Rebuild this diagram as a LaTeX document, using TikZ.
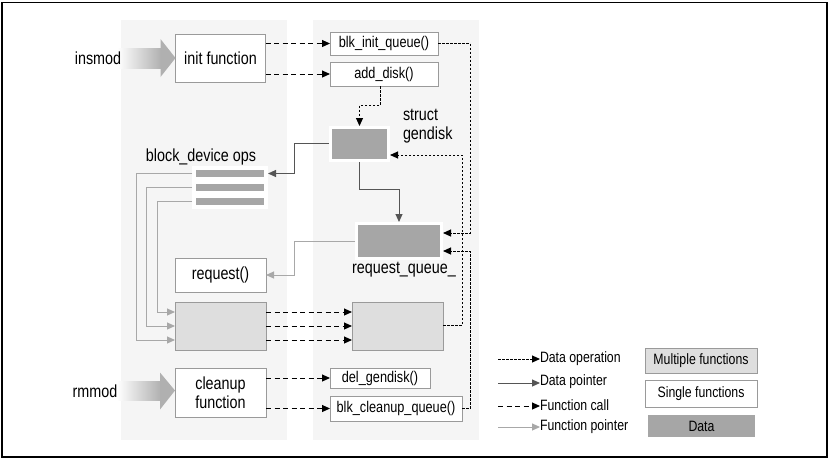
\documentclass[tikz,border=0pt]{standalone}
\usepackage{fontspec}
\setmainfont{Liberation Sans}[FakeStretch=0.82]
\usetikzlibrary{arrows.meta,calc}
\definecolor{panel}{HTML}{F5F5F5}
\definecolor{datag}{HTML}{A6A6A6}
\definecolor{multig}{HTML}{DEDEDE}
\definecolor{borderg}{HTML}{9A9A9A}
\definecolor{ptrdark}{HTML}{555555}
\definecolor{ptrlight}{HTML}{A8A8A8}
\definecolor{arrowg}{HTML}{B0B0B0}
\begin{document}
\begin{tikzpicture}[x=1pt,y=-1pt,
  every node/.style={inner sep=0pt, outer sep=0pt},
  bigfont/.style={font=\fontsize{17.5}{19.5}\selectfont},
  smallfont/.style={font=\fontsize{15.5}{17}\selectfont},
  legfont/.style={font=\fontsize{15}{17}\selectfont},
  single/.style={draw=borderg, fill=white, line width=1pt, align=center},
  multi/.style={draw=borderg, fill=multig, line width=1pt, align=center},
  datanode/.style={draw=white, fill=datag, line width=3pt, outer sep=1.5pt},
  barnode/.style={draw=white, fill=datag, line width=4pt, outer sep=2pt, minimum width=72pt, minimum height=11pt},
  tipk/.style={-{Triangle[length=8pt,width=7pt]}},
  fcall/.style={tipk, draw=black, line width=1pt, dash pattern=on 5pt off 3.5pt},
  dataop/.style={tipk, draw=black, line width=1pt, dash pattern=on 2.5pt off 1.5pt},
  dptr/.style={tipk, draw=ptrdark, line width=1pt},
  fptr/.style={tipk, draw=ptrlight, line width=1pt},
]
\useasboundingbox (0,0) rectangle (830,459);
\fill[white] (0,0) rectangle (830,459);
\draw[line width=1.8pt] (2,2.5) rectangle (827,457);
% panels
\fill[panel] (121,20) rectangle (287,440);
\fill[panel] (313,20) rectangle (479,440);

% single / multi function nodes
\node[single, bigfont, minimum width=90pt, minimum height=48pt] (init) at (220.5,58) {init function};
\node[single, smallfont, minimum width=108pt, minimum height=23pt] (blkinit) at (384,43.5) {blk\_init\_queue()};
\node[single, smallfont, minimum width=108pt, minimum height=24pt] (adddisk) at (384,74) {add\_disk()};
\node[datanode, minimum width=58pt, minimum height=33pt] (gendisk) at (359.5,144) {};
\node[barnode] (bar1) at (230,173.5) {};
\node[barnode] (bar2) at (230,187.5) {};
\node[barnode] (bar3) at (230,201.5) {};
\node[datanode, minimum width=85pt, minimum height=35pt] (reqq) at (399,241) {};
\node[single, bigfont, minimum width=91pt, minimum height=34pt] (request) at (220.5,275) {request()};
\node[multi, minimum width=91pt, minimum height=48pt] (multL) at (220.5,326) {};
\node[multi, minimum width=91pt, minimum height=48pt] (multR) at (397.5,326) {};
\node[single, bigfont, minimum width=91pt, minimum height=49pt] (cleanup) at (220.5,392.5) {cleanup\\function};
\node[single, smallfont, minimum width=100pt, minimum height=20pt] (delg) at (380,378) {del\_gendisk()};
\node[single, smallfont, minimum width=132pt, minimum height=25pt] (blkclean) at (396,408.5) {blk\_cleanup\_queue()};

% gradient arrows (drawn under the labels)
\shade[left color=white, right color=arrowg] ($(init.west)+(-58,-10)$) rectangle ($(init.west)+(-14,10)$);
\fill[arrowg] ($(init.west)+(-15,-19)$) -- (init.west) -- ($(init.west)+(-15,19)$) -- cycle;
\shade[left color=white, right color=arrowg] ($(cleanup.west)+(-58,-11)$) rectangle ($(cleanup.west)+(-14,8)$);
\fill[arrowg] ($(cleanup.west)+(-15,-20)$) -- ($(cleanup.west)+(0,-2)$) -- ($(cleanup.west)+(-15,17)$) -- cycle;

% labels
\node[bigfont] (insmod) at (98,58) {insmod};
\node[bigfont] (rmmod) at (95,391) {rmmod};
\node[bigfont] (opslbl) at (201,157) {block\_device ops};
\node[bigfont, anchor=north west, align=left] (gdlbl) at (403,109) {struct\\gendisk};
\node[bigfont] (rqlbl) at (404,270) {request\_queue\_};

% function calls
\draw[fcall] (init.east |- blkinit.west) -- (blkinit.west);
\draw[fcall] (init.east |- adddisk.west) -- (adddisk.west);
\draw[fcall] (cleanup.east |- delg.west) -- (delg.west);
\draw[fcall] (cleanup.east |- blkclean.west) -- (blkclean.west);
\foreach \yy in {312,326,340} \draw[fcall] (multL.east |- 0,\yy) -- (multR.west |- 0,\yy);

% data operations
\draw[dataop] ([xshift=-4pt]adddisk.south) -- ++(0,19) -| (gendisk.north);
\draw[dataop] (blkinit.east) -| (470,233) -- (reqq.east |- 0,233);
\draw[dataop] (multR.east |- 0,325) -| (462,155) -- (gendisk.east |- 0,155);
\draw[dataop] (blkclean.east) -| (470,251) -- (reqq.east |- 0,251);

% data pointers
\draw[dptr] (gendisk.west |- 0,143) -| (294,173.5) -- (bar1.east);
\draw[dptr] (gendisk.south) |- (reqq.north |- 0,189) -- (reqq.north);

% function pointers
\draw[fptr] (reqq.west) -- (294,241) |- (request.east);
\draw[fptr] (bar1.west) -| (136,340) -- (multL.west |- 0,340);
\draw[fptr] (bar2.west) -| (146,326) -- (multL.west |- 0,326);
\draw[fptr] (bar3.west) -| (157,312) -- (multL.west |- 0,312);

% legend
\coordinate (lg1) at (498,359);
\coordinate (lg2) at (498,383);
\coordinate (lg3) at (498,406);
\coordinate (lg4) at (498,427);
\node[legfont, anchor=west] (lt1) at (540,359) {Data operation};
\node[legfont, anchor=west] (lt2) at (540,382) {Data pointer};
\node[legfont, anchor=west] (lt3) at (540,405) {Function call};
\node[legfont, anchor=west] (lt4) at (540,427) {Function pointer};
\draw[dataop] (lg1) -- (lg1 -| lt1.west);
\draw[dptr] (lg2) -- (lg2 -| lt2.west);
\draw[fcall] (lg3) -- (lg3 -| lt3.west);
\draw[fptr] (lg4) -- (lg4 -| lt4.west);
\node[multi, legfont, minimum width=112pt, minimum height=25pt] (lgmulti) at (701,360.5) {Multiple functions};
\node[single, legfont, minimum width=112pt, minimum height=27pt] (lgsingle) at (701,393.5) {Single functions};
\node[fill=datag, legfont, minimum width=107pt, minimum height=22pt] (lgdata) at (701.5,426) {Data};
\end{tikzpicture}
\end{document}
